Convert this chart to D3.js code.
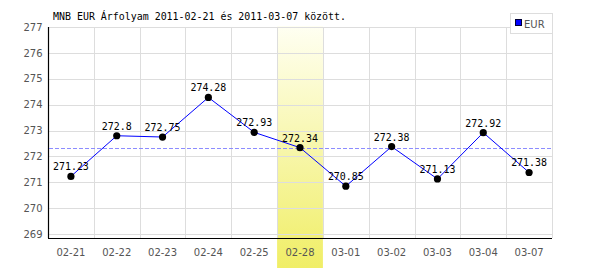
<!DOCTYPE html>
<html>
<head>
<meta charset="utf-8">
<script src="https://cdn.jsdelivr.net/npm/d3@7"></script>
<style>
  body { margin: 0; background: #fff; }
  svg { display: block; }
</style>
</head>
<body>
<svg id="chart"></svg>
<script>
// MNB EUR rate chart

var title = "MNB EUR Árfolyam 2011-02-21 és 2011-03-07 között.";
var dates = ["02-21","02-22","02-23","02-24","02-25","02-28","03-01","03-02","03-03","03-04","03-07"];
var rates = [271.23, 272.8, 272.75, 274.28, 272.93, 272.34, 270.85, 272.38, 271.13, 272.92, 271.38];
var yTicks = [269, 270, 271, 272, 273, 274, 275, 276, 277];
var yDomain = [268.85, 277];
var average = [272.34];
var highlighted = ["02-28"];
var seriesName = "EUR";

var width = 600, height = 270;
var padding = {left: 48, right: 48, top: 27, bottom: 32};
var charW = 5.98; // monospace glyph advance seen in the picture

var svg = d3.select("#chart")
	.attr("width", width)
	.attr("height", height);

var x = d3.scaleBand()
	.domain(dates)
	.range([padding.left, width - padding.right])
	.padding(0);
var y = d3.scaleLinear()
	.domain(yDomain)
	.range([height - padding.bottom, padding.top]);

// gradient for the highlighted day
var grad = svg.append("defs").append("linearGradient")
	.attr("id", "hl").attr("x1", 0).attr("y1", 0).attr("x2", 0).attr("y2", 1);
grad.append("stop").attr("offset", "0%").attr("stop-color", "#fffff2");
grad.append("stop").attr("offset", "100%").attr("stop-color", "#f0ee66");

svg.selectAll(".hl").data(highlighted).enter().append("rect")
	.attr("x", function(d){ return x(d); })
	.attr("y", padding.top - 1)
	.attr("width", x.bandwidth())
	.attr("height", height - padding.top - 1)
	.attr("fill", "url(#hl)");

// grid
svg.append("g").selectAll("line").data(yTicks).enter().append("line")
	.attr("x1", padding.left + 1).attr("x2", width - padding.right)
	.attr("y1", function(d){ return Math.round(y(d)) + 0.5; })
	.attr("y2", function(d){ return Math.round(y(d)) + 0.5; })
	.attr("stroke", "#dddddd");
svg.append("g").selectAll("line").data(dates).enter().append("line")
	.attr("x1", function(d){ return Math.round(x(d) + x.bandwidth()) + 0.5; })
	.attr("x2", function(d){ return Math.round(x(d) + x.bandwidth()) + 0.5; })
	.attr("y1", padding.top).attr("y2", height - padding.bottom)
	.attr("stroke", "#dddddd");

// axes
var xAxis = d3.axisBottom(x).tickSize(0).tickPadding(10);
var yAxis = d3.axisLeft(y).tickValues(yTicks).tickSize(0).tickPadding(6).tickFormat(d3.format("d"));

var gx = svg.append("g")
	.attr("transform", "translate(0," + (height - padding.bottom + 0.5) + ")")
	.call(xAxis);
var gy = svg.append("g")
	.attr("transform", "translate(" + (padding.left + 0.5) + ",0)")
	.call(yAxis);
[gx, gy].forEach(function(g){
	g.select(".domain").attr("stroke", "#000").attr("stroke-width", 1.2);
	g.selectAll("text")
		.attr("fill", "#555")
		.style("font-family", "DejaVu Sans, Verdana, sans-serif")
		.style("font-size", "10px");
});
gy.select(".domain").attr("d", "M0," + padding.top + "V" + (height - padding.bottom));
gx.select(".domain").attr("d", "M" + padding.left + ",0H" + (width - padding.right));

// average line
svg.selectAll(".avg").data(average).enter().append("line")
	.attr("x1", padding.left + 1).attr("x2", width - padding.right)
	.attr("y1", function(d){ return Math.round(y(d)) + 0.5; })
	.attr("y2", function(d){ return Math.round(y(d)) + 0.5; })
	.attr("stroke", "#8c8cff")
	.attr("stroke-dasharray", "4,2");

// series
var cx = function(d, i){ return x(dates[i]) + x.bandwidth() / 2; };
var line = d3.line()
	.x(function(d, i){ return cx(d, i); })
	.y(function(d){ return y(d); });
svg.append("path").datum(rates)
	.attr("d", line)
	.attr("fill", "none")
	.attr("stroke", "#0000ff")
	.attr("stroke-width", 1);

svg.selectAll(".dot").data(rates).enter().append("circle")
	.attr("cx", cx)
	.attr("cy", function(d){ return y(d); })
	.attr("r", 3.6)
	.attr("fill", "#000");

svg.selectAll(".lbl").data(rates).enter().append("text")
	.attr("x", cx)
	.attr("y", function(d){ return y(d) - 6; })
	.attr("text-anchor", "middle")
	.attr("fill", "#000")
	.style("font-family", "DejaVu Sans Mono, monospace")
	.style("font-size", "10.5px")
	.attr("textLength", function(d){ return String(d).length * charW; })
	.attr("lengthAdjust", "spacingAndGlyphs")
	.text(function(d){ return String(d); });

// title
svg.append("text")
	.attr("x", 53).attr("y", 20)
	.attr("fill", "#000")
	.style("font-family", "DejaVu Sans Mono, monospace")
	.style("font-size", "10.5px")
	.attr("textLength", title.length * charW)
	.attr("lengthAdjust", "spacingAndGlyphs")
	.text(title);

// legend
var lg = svg.append("g");
lg.append("rect")
	.attr("x", 510.5).attr("y", 13.5).attr("width", 42).attr("height", 20)
	.attr("fill", "#fff").attr("stroke", "#dddddd");
lg.append("rect")
	.attr("x", 515.5).attr("y", 19.5).attr("width", 6).attr("height", 6)
	.attr("fill", "#0000ff").attr("stroke", "#000033");
lg.append("text")
	.attr("x", 524).attr("y", 27.5)
	.attr("fill", "#555")
	.style("font-family", "DejaVu Sans, Verdana, sans-serif")
	.style("font-size", "10px")
	.text(seriesName);
</script>
</body>
</html>
